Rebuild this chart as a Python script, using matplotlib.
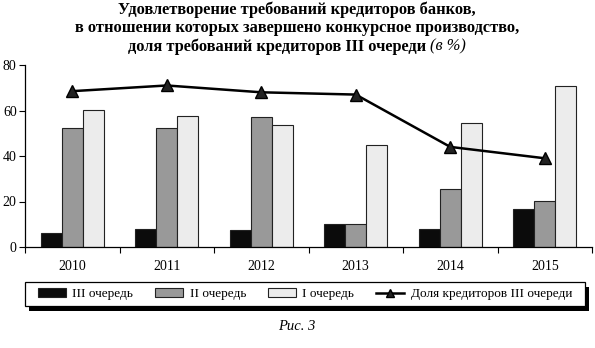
import matplotlib
matplotlib.use("Agg")
import matplotlib.pyplot as plt
import numpy as np
from matplotlib.patches import Rectangle

plt.rcParams['font.family'] = ['Liberation Serif', 'DejaVu Serif']

years = ['2010', '2011', '2012', '2013', '2014', '2015']
queue3 = [6.3, 7.8, 7.3, 10.3, 7.8, 16.6]
queue2 = [52.5, 52.5, 57.3, 10.3, 25.4, 20.2]
queue1 = [60.4, 57.8, 53.8, 45.0, 54.7, 70.6]
share3 = [68.5, 71.0, 68.0, 67.0, 44.0, 39.0]

labels = ['III очередь', 'II очередь', 'I очередь', 'Доля кредиторов III очереди']
colors = ['#0b0b0b', '#999999', '#ececec']

W, H = 595, 348
fig = plt.figure(figsize=(W / 100, H / 100), dpi=100)
ax = fig.add_axes([25 / W, 1 - 247 / H, (592 - 25) / W, (247 - 65) / H])

x = np.arange(len(years))
bw = 0.222
bars = []
for i, (vals, c) in enumerate(zip([queue3, queue2, queue1], colors)):
    b = ax.bar(x + (i - 1) * bw, vals, width=bw, color=c, edgecolor='#222222',
               linewidth=0.8, label=labels[i], zorder=2)
    bars.append(b)
line, = ax.plot(x, share3, color='black', linewidth=1.8, marker='^',
                markersize=8, markerfacecolor='#222222', markeredgecolor='black',
                label=labels[3], zorder=3)

ax.set_xlim(-0.5, len(years) - 0.5)
ax.set_ylim(0, 80)
ax.set_yticks([0, 20, 40, 60, 80])
ax.set_xticks(x)
ax.set_xticklabels(years)
ax.set_xticks(np.arange(-0.5, len(years)), minor=True)
ax.tick_params(axis='x', which='major', length=0, pad=9, labelsize=10)
ax.tick_params(axis='x', which='minor', length=4, width=0.8, direction='out')
ax.tick_params(axis='y', length=4, width=0.8, direction='out', pad=2, labelsize=10)
for s in ['top', 'right']:
    ax.spines[s].set_visible(False)
for s in ['left', 'bottom']:
    ax.spines[s].set_linewidth(0.9)

# Title: three centred lines, the last one ending with an italic unit note
cx = 297 / W
fs_t = 11.8
fig.text(cx, 1 - 9.5 / H, 'Удовлетворение требований кредиторов банков,',
         ha='center', va='center', fontsize=fs_t, fontweight='bold')
fig.text(cx, 1 - 28 / H, 'в отношении которых завершено конкурсное производство,',
         ha='center', va='center', fontsize=fs_t, fontweight='bold')
t_a = fig.text(0, 1 - 46.5 / H, 'доля требований кредиторов III очереди ',
               ha='left', va='center', fontsize=fs_t, fontweight='bold')
t_b = fig.text(0, 1 - 46.5 / H, '(в %)', ha='left', va='center', fontsize=fs_t,
               fontstyle='italic')
fig.canvas.draw()
r = fig.canvas.get_renderer()
wa = t_a.get_window_extent(r).width
wb = t_b.get_window_extent(r).width
x0 = 297 - (wa + wb) / 2
t_a.set_x(x0 / W)
t_b.set_x((x0 + wa) / W)

# Legend box with a solid drop shadow, entries spread across it
box_x0, box_x1, box_top, box_bot = 25, 585, 282, 306
fig.add_artist(Rectangle((box_x0 + 4, H - box_bot - 5), box_x1 - box_x0, box_bot - box_top,
                         facecolor='black', edgecolor='none', transform=None, zorder=4))
fig.add_artist(Rectangle((box_x0, H - box_bot), box_x1 - box_x0, box_bot - box_top,
                         facecolor='white', edgecolor='black', linewidth=0.9,
                         transform=None, zorder=4.5))
leg = fig.legend(handles=[bars[0], bars[1], bars[2], line], labels=labels,
                 loc='center', bbox_to_anchor=(38 / W, 1 - box_bot / H, (572 - 38) / W,
                                               (box_bot - box_top) / H),
                 mode='expand', ncol=4, frameon=False,
                 fontsize=9.5, handlelength=2.1, handleheight=0.65, markerscale=0.75,
                 borderaxespad=0, columnspacing=1.0, handletextpad=0.5,
                 borderpad=0)
leg.set_zorder(5)

fig.text(297 / W, 1 - 326 / H, 'Рис. 3', ha='center', va='center',
         fontsize=10.5, fontstyle='italic')

fig.savefig('out.png', dpi=100)
